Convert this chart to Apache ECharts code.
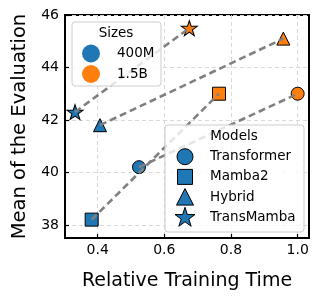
<!DOCTYPE html>
<html><head><meta charset="utf-8">
<script src="https://cdn.jsdelivr.net/npm/echarts@6/dist/echarts.min.js"></script>
<style>html,body{margin:0;padding:0;background:#fff}#c{width:320px;height:299px}</style>
</head><body><div id="c"></div>
<script>
const models = ['Transformer', 'Mamba2', 'Hybrid', 'TransMamba'];
const sizes = ['400M', '1.5B'];
const time400M = [0.524, 0.382, 0.407, 0.332];
const eval400M = [40.2, 38.2, 41.8, 42.3];
const time15B = [1.0, 0.764, 0.957, 0.675];
const eval15B = [43.0, 43.0, 45.1, 45.5];
const xTicks = [0.4, 0.6, 0.8, 1.0];
const yTicks = [38, 40, 42, 44, 46];

const FONT = 'DejaVu Sans';
const sizeColors = ['#1f77b4', '#ff7f0e'];

function starPts(cx, cy, R) {
  const pts = [];
  const r = R * 0.382;
  for (let i = 0; i < 10; i++) {
    const a = -Math.PI / 2 + i * Math.PI / 5;
    const rr = i % 2 === 0 ? R : r;
    pts.push([cx + rr * Math.cos(a), cy + rr * Math.sin(a)]);
  }
  return pts;
}
function starPath() {
  const p = starPts(0, 0, 10);
  return 'path://M' + p.map(q => q[0].toFixed(3) + ',' + q[1].toFixed(3)).join('L') + 'Z';
}
const symbols = ['circle', 'rect', 'triangle', starPath()];
const symSizes = [13, 13, 13, [16, 15]];

const series = [];
models.forEach((m, i) => {
  series.push({
    type: 'scatter', name: m, symbol: symbols[i], symbolSize: symSizes[i], z: 2,
    data: [
      { value: [time400M[i], eval400M[i]], itemStyle: { color: sizeColors[0] } },
      { value: [time15B[i], eval15B[i]], itemStyle: { color: sizeColors[1] } }
    ],
    itemStyle: { borderColor: '#000', borderWidth: 1, opacity: 1 }
  });
});
models.forEach((m, i) => {
  series.push({
    type: 'line', name: m + '-link', symbol: 'none', z: 3, silent: true,
    data: [[time400M[i], eval400M[i]], [time15B[i], eval15B[i]]],
    lineStyle: { color: '#808080', width: 2.6, type: [7, 4] }
  });
});

// legends
const graphic = [];
function legendBox(x1, y1, x2, y2) {
  graphic.push({ type: 'rect', z: 10, shape: { x: x1, y: y1, width: x2 - x1, height: y2 - y1, r: 3 },
    style: { fill: 'rgba(255,255,255,0.8)', stroke: '#cccccc', lineWidth: 1 } });
}
function txt(x, y, s, align) {
  graphic.push({ type: 'text', z: 11, x: x, y: y,
    style: { text: s, fontFamily: FONT, fontSize: 13.5, fill: '#000', align: align || 'left', verticalAlign: 'middle' } });
}
legendBox(72, 22, 161, 86);
txt(116, 33, 'Sizes', 'center');
sizes.forEach((s, k) => {
  const y = 53.5 + k * 20.5;
  graphic.push({ type: 'circle', z: 11, shape: { cx: 91, cy: y, r: 9 }, style: { fill: sizeColors[k] } });
  txt(117, y, s);
});
legendBox(165, 125, 304, 232);
txt(234, 136.5, 'Models', 'center');
models.forEach((m, k) => {
  const y = 156.7 + k * 20.2;
  const cx = 185;
  const st = { fill: sizeColors[0], stroke: '#000', lineWidth: 1 };
  if (k === 0) graphic.push({ type: 'circle', z: 11, shape: { cx: cx, cy: y, r: 8 }, style: st });
  if (k === 1) graphic.push({ type: 'rect', z: 11, shape: { x: cx - 7.5, y: y - 7.5, width: 15, height: 15 }, style: st });
  if (k === 2) graphic.push({ type: 'polygon', z: 11, shape: { points: [[cx, y - 8.5], [cx - 8.5, y + 8], [cx + 8.5, y + 8]] }, style: st });
  if (k === 3) graphic.push({ type: 'polygon', z: 11, shape: { points: starPts(cx, y + 0.5, 10.5) }, style: st });
  txt(210, y, m);
});

const chart = echarts.init(document.getElementById('c'), null, { renderer: 'canvas' });
chart.setOption({
  animation: false,
  backgroundColor: '#fff',
  grid: { left: 65, top: 15, right: 11, bottom: 61, show: true, borderColor: '#000', borderWidth: 2, backgroundColor: 'transparent' },
  xAxis: {
    type: 'value', min: 0.302, max: 1.034,
    name: 'Relative Training Time', nameLocation: 'middle', nameGap: 34,
    nameTextStyle: { fontFamily: FONT, fontSize: 19, color: '#000' },
    axisLine: { show: true, onZero: false, lineStyle: { color: '#000', width: 2 } },
    axisTick: { show: true, inside: true, length: 4, lineStyle: { color: '#000', width: 1.2 }, customValues: xTicks },
    axisLabel: { customValues: xTicks, formatter: v => v.toFixed(1), fontFamily: FONT, fontSize: 14, color: '#000', margin: 5 },
    splitLine: { show: true, lineStyle: { color: '#d9d9d9', width: 1, type: [4, 3] } }
  },
  yAxis: {
    type: 'value', min: 37.5, max: 46,
    name: 'Mean of the Evaluation', nameLocation: 'middle', nameGap: 23,
    nameTextStyle: { fontFamily: FONT, fontSize: 19.5, color: '#000' },
    axisLine: { show: true, onZero: false, lineStyle: { color: '#000', width: 2 } },
    axisTick: { show: true, inside: true, length: 4, lineStyle: { color: '#000', width: 1.2 }, customValues: yTicks },
    axisLabel: { customValues: yTicks, formatter: v => String(v), fontFamily: FONT, fontSize: 14, color: '#000', margin: 6 },
    splitLine: { show: true, lineStyle: { color: '#d9d9d9', width: 1, type: [4, 3] } }
  },
  series: series,
  graphic: graphic
});
</script></body></html>
